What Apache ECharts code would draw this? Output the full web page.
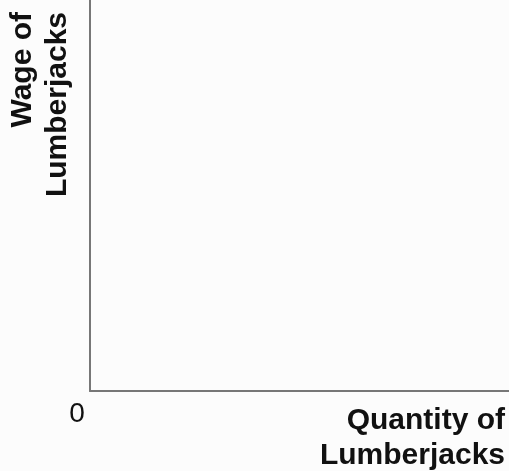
<!DOCTYPE html>
<html>
<head>
<meta charset="utf-8">
<script src="https://cdn.jsdelivr.net/npm/echarts@6/dist/echarts.min.js"></script>
<style>
html,body{margin:0;padding:0;background:#fcfcfc;}
#chart{width:509px;height:471px;}
</style>
</head>
<body>
<div id="chart"></div>
<script>
// Blank labour-market axes: no curves are drawn in the reference.
var xAxisRange = [0, 10];
var yAxisRange = [0, 10];
var xTitleLines = ['Quantity of', 'Lumberjacks'];
var yTitleLines = ['Wage of', 'Lumberjacks'];
var originLabel = '0';

var chart = echarts.init(document.getElementById('chart'));
var titleFont = { fontFamily: 'Liberation Sans, Arial, sans-serif', fontWeight: 'bold', fontSize: 30, fill: '#111' };
chart.setOption({
  backgroundColor: '#fcfcfc',
  animation: false,
  grid: { left: 90, top: 0, right: 0, bottom: 80 },
  xAxis: {
    type: 'value', min: xAxisRange[0], max: xAxisRange[1],
    axisLine: { show: true, lineStyle: { color: '#777', width: 2 } },
    axisTick: { show: false }, axisLabel: { show: false }, splitLine: { show: false }
  },
  yAxis: {
    type: 'value', min: yAxisRange[0], max: yAxisRange[1],
    axisLine: { show: true, lineStyle: { color: '#777', width: 2 } },
    axisTick: { show: false }, axisLabel: { show: false }, splitLine: { show: false }
  },
  series: [],
  graphic: [
    {
      type: 'text', x: 505, y: 403,
      style: Object.assign({ text: xTitleLines.join('\n'), align: 'right', verticalAlign: 'top', lineHeight: 35 }, titleFont)
    },
    {
      type: 'text', x: 5, y: 12, rotation: Math.PI / 2,
      style: Object.assign({ text: yTitleLines.join('\n'), align: 'right', verticalAlign: 'top', lineHeight: 35 }, titleFont)
    },
    {
      type: 'text', x: 77, y: 400,
      style: { text: originLabel, align: 'center', verticalAlign: 'top', fontFamily: 'Liberation Sans, Arial, sans-serif', fontSize: 28, fill: '#111' }
    }
  ]
});
</script>
</body>
</html>
